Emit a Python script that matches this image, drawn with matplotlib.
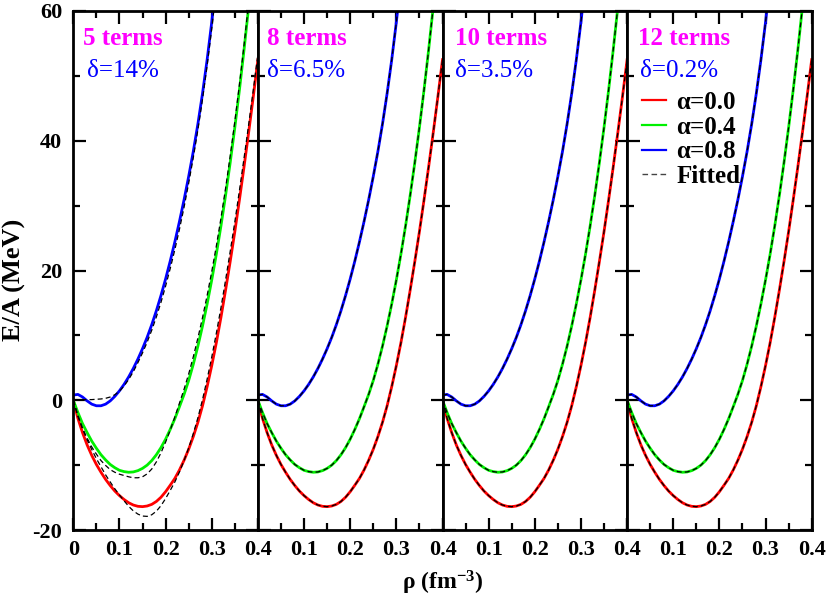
import numpy as np
import matplotlib
matplotlib.use("Agg")
import matplotlib.pyplot as plt
from matplotlib.ticker import MultipleLocator, FixedLocator, FixedFormatter

plt.rcParams['font.family'] = ['Liberation Serif', 'DejaVu Serif']
plt.rcParams['mathtext.fontset'] = 'custom'
plt.rcParams['mathtext.rm'] = 'Liberation Serif:bold'
plt.rcParams['mathtext.default'] = 'rm'
plt.rcParams['axes.unicode_minus'] = False

# density grid (fm^-3)
rho = [0.00, 0.01, 0.02, 0.03, 0.04, 0.05, 0.06, 0.07, 0.08, 0.09,
       0.10, 0.11, 0.12, 0.13, 0.14, 0.15, 0.16, 0.17, 0.18, 0.19,
       0.20, 0.21, 0.22, 0.23, 0.24, 0.25, 0.26, 0.27, 0.28, 0.29,
       0.30, 0.31, 0.32, 0.33, 0.34, 0.35, 0.36, 0.37, 0.38, 0.39, 0.40]

# E/A (MeV)
e_a00 = [0.0, -2.8, -5.0, -6.9, -8.5, -9.9, -11.1, -12.2, -13.15, -14.0,
         -14.7, -15.3, -15.8, -16.15, -16.35, -16.4, -16.3, -16.05, -15.6, -14.95,
         -14.1, -13.1, -12.05, -10.75, -9.25, -7.55, -5.6, -3.4, -0.85, 2.1,
         5.35, 8.9, 12.8, 17.0, 21.4, 26.0, 30.9, 36.0, 41.3, 46.8, 52.5]
e_a04 = [0.0, -1.9, -3.6, -5.0, -6.3, -7.4, -8.4, -9.2, -9.9, -10.4,
         -10.8, -11.0, -11.1, -11.05, -10.85, -10.5, -10.0, -9.3, -8.4, -7.3,
         -6.0, -4.5, -2.85, -1.0, 0.9, 3.05, 5.55, 8.35, 11.45, 14.85,
         18.55, 22.55, 26.9, 31.6, 36.65, 42.05, 47.85, 54.05, 60.65, 67.25, 74.25]
e_a08 = [0.8, 0.9, 0.5, -0.1, -0.6, -0.85, -0.85, -0.6, -0.1, 0.6,
         1.45, 2.45, 3.6, 4.9, 6.35, 7.95, 9.7, 11.65, 13.8, 16.15,
         18.7, 21.45, 24.4, 27.55, 30.9, 34.5, 38.35, 42.6, 47.3, 52.5,
         58.3, 64.7, 71.7]

# 5-term fit (visibly off); the 8/10/12-term fits overlap the data
fit5_a00 = [0.0, -2.5, -4.4, -6.1, -7.6, -9.0, -10.25, -11.5, -12.6, -13.65,
            -14.6, -15.5, -16.35, -17.05, -17.55, -17.85, -17.9, -17.65, -17.1, -16.25,
            -15.15, -13.9, -12.6, -11.05, -9.3, -7.35, -5.15, -2.7, 0.1, 3.25,
            6.65, 10.35, 14.3, 18.55, 22.95, 27.5, 32.35, 37.35, 42.5, 47.8, 53.3]
fit5_a04 = [0.0, -2.3, -4.3, -5.85, -7.2, -8.3, -9.3, -10.05, -10.7, -11.1,
            -11.4, -11.6, -11.8, -11.95, -11.95, -11.8, -11.35, -10.6, -9.5, -8.1,
            -6.45, -4.6, -2.6, -0.45, 1.7, 4.05, 6.7, 9.6, 12.75, 16.15,
            19.85, 23.8, 28.1, 32.7, 37.65, 42.95, 48.65, 54.75, 61.25, 67.75, 74.65]
fit5_a08 = [0.1, 0.1, 0.1, 0.1, 0.1, 0.15, 0.2, 0.3, 0.5, 0.85,
            1.4, 2.2, 3.2, 4.4, 5.8, 7.3, 8.95, 10.8, 12.85, 15.1,
            17.6, 20.3, 23.2, 26.35, 29.75, 33.45, 37.4, 41.7, 46.4, 51.6,
            57.3, 63.6, 70.6]

terms = ["5 terms", "8 terms", "10 terms", "12 terms"]
deltas = ["δ=14%", "δ=6.5%", "δ=3.5%", "δ=0.2%"]
alphas = ["α=0.0", "α=0.4", "α=0.8"]
colors = ["#ff0000", "#00f000", "#0000ff"]

series = [e_a00, e_a04, e_a08]
fits = [[fit5_a00, fit5_a04, fit5_a08], series, series, series]

fig = plt.figure(figsize=(8.3, 6.1), dpi=100)
left, bottom, width, height = 73.3 / 830, 1 - 530 / 610, 184.6 / 830, 519 / 610
txt_x = [(0.050, 0.073), (0.049, 0.049), (0.066, 0.066), (0.061, 0.070)]

for i in range(4):
    ax = fig.add_axes([left + i * width, bottom, width, height])
    for s, c, lab in zip(series, colors, alphas):
        ax.plot(rho[:len(s)], s, color=c, lw=2.0, label=lab, zorder=2)
    for j, f in enumerate(fits[i]):
        ax.plot(rho[:len(f)], f, color='black', lw=0.9, ls=(0, (4, 2.5)),
                zorder=3, label="Fitted" if j == 0 else None)
    ax.set_xlim(0, 0.4)
    ax.set_ylim(-20, 60)
    ax.xaxis.set_major_locator(FixedLocator([0, 0.1, 0.2, 0.3, 0.4]))
    if i == 0:
        ax.xaxis.set_major_formatter(FixedFormatter(["0", "0.1", "0.2", "0.3", "0.4"]))
    else:
        ax.xaxis.set_major_formatter(FixedFormatter(["", "0.1", "0.2", "0.3", "0.4"]))
    ax.xaxis.set_minor_locator(MultipleLocator(0.05))
    ax.yaxis.set_major_locator(MultipleLocator(20))
    ax.yaxis.set_minor_locator(MultipleLocator(10))
    ax.tick_params(which='both', direction='in', top=True, right=True, width=1.6)
    ax.tick_params(which='major', length=9)
    ax.tick_params(which='minor', length=5)
    ax.tick_params(axis='x', pad=7)
    ax.tick_params(axis='y', pad=8)
    if i > 0:
        ax.tick_params(axis='y', labelleft=False)
    for lbl in ax.get_xticklabels() + ax.get_yticklabels():
        lbl.set_fontweight('bold')
        lbl.set_fontsize(16)
    for sp in ax.spines.values():
        sp.set_linewidth(2.0)
    ax.text(txt_x[i][0], 0.9345, terms[i], transform=ax.transAxes, color='#ff00ff',
            fontsize=18, fontweight='bold', va='baseline')
    ax.text(txt_x[i][1], 0.872, deltas[i], transform=ax.transAxes, color='#0000ff',
            fontsize=18, va='baseline')
    if i == 3:
        leg = ax.legend(loc='upper left', bbox_to_anchor=(0.0, 0.875), frameon=False,
                        prop={'weight': 'bold', 'size': 18}, handlelength=0.96,
                        handletextpad=0.4, labelspacing=0.07, borderaxespad=0.2)
        for h in leg.get_lines():
            h.set_linewidth(1.6)
        leg.get_lines()[3].set_linewidth(1.0)
        leg.get_lines()[3].set_color('#444444')

fig.text(0.018, 0.541, "E/A (MeV)", rotation=90, ha='center', va='center',
         fontsize=19, fontweight='bold')
fig.text(0.533, 0.044, "ρ (fm$^{-3}$)", ha='center', va='center',
         fontsize=17, fontweight='bold')

fig.savefig("out.png", dpi=100)
